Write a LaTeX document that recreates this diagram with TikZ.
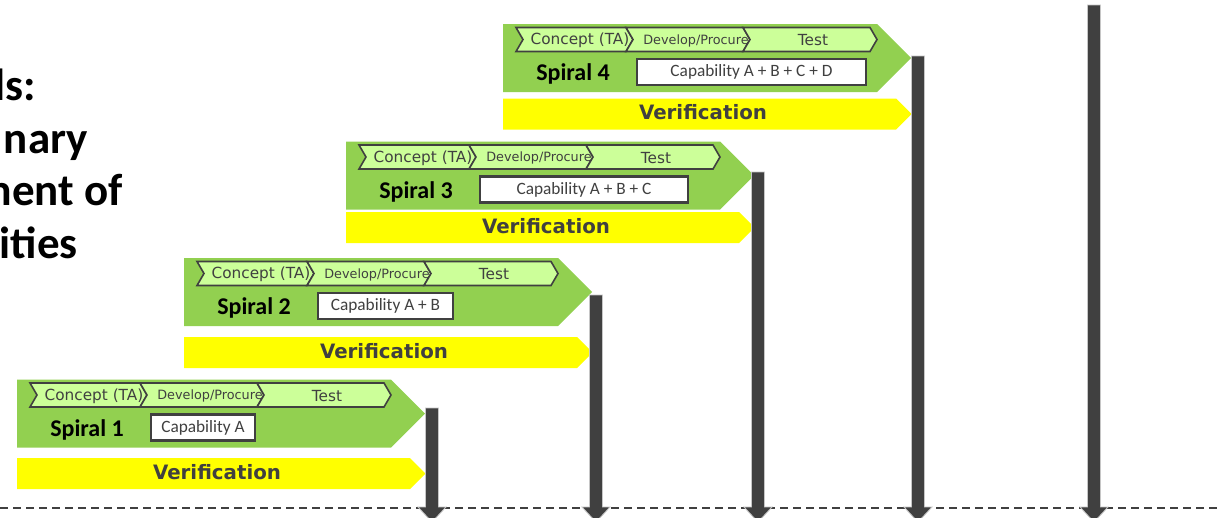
\documentclass[tikz,border=0pt]{standalone}
\usepackage{fontspec}
\setmainfont{Carlito}
\newfontfamily\dvsans{DejaVu Sans}
\definecolor{spgreen}{HTML}{92D050}
\definecolor{chevfill}{HTML}{CCFF99}
\definecolor{dgray}{HTML}{404040}
\definecolor{verfill}{HTML}{FFFF00}
\tikzset{
  greenbody/.style={fill=spgreen},
  chevshape/.style={fill=chevfill, draw=dgray, line width=1.6pt, line join=miter},
  chevtext/.style={font=\dvsans\fontsize{15.3}{17}\selectfont, text=dgray, inner sep=0},
  chevsmall/.style={font=\dvsans\fontsize{12.8}{15}\selectfont, text=dgray, inner sep=0},
  spirallabel/.style={font=\bfseries\fontsize{24}{28}\selectfont, text=black, inner sep=0},
  capbox/.style={draw=dgray, line width=2.2pt, fill=white, font=\fontsize{17.3}{20}\selectfont, text=dgray, inner sep=0, minimum height=26pt},
  verbody/.style={fill=verfill},
  vertext/.style={font=\dvsans\bfseries\fontsize{19.8}{23}\selectfont, text=dgray, inner sep=0},
  barshape/.style={fill=dgray, draw=gray!45, line width=0.8pt},
  dashline/.style={draw=dgray, line width=2pt, dash pattern=on 8pt off 5pt},
  sidetext/.style={font=\bfseries\fontsize{45}{52}\selectfont, text=black, inner sep=0, anchor=base east},
}
% chevron: #1 left x, #2 right x (tip at #2+7), #3 top y
\newcommand\chevron[3]{%
  \draw[chevshape] ({#1},{#3}) -- ({#2},{#3}) -- ({#2+7},{#3+12}) -- ({#2},{#3+24})
    -- ({#1},{#3+24}) -- ({#1+7},{#3+12}) -- cycle;}
% spiral: #1 x0, #2 green top, #3 id, #4 number, #5 capability text, #6 box width, #7 yellow top
\newcommand\spiralunit[7]{%
  \fill[greenbody] ({#1},{#2}) -- ++(374,0) -- ++(34,34) -- ++(-34,34) -- ++(-374,0) -- cycle;
  \chevron{#1+13}{#1+123}{#2+3.5}
  \chevron{#1+123}{#1+240}{#2+3.5}
  \chevron{#1+240}{#1+367}{#2+3.5}
  \node[chevtext] (concept#3) at ({#1+77},{#2+16.5}) {Concept (TA)};
  \node[chevsmall] (develop#3) at ({#1+193},{#2+16.5}) {Develop/Procure};
  \node[chevtext] (test#3) at ({#1+310},{#2+16.5}) {Test};
  \node[spirallabel] (label#3) at ({#1+70},{#2+50}) {Spiral #4};
  \node[capbox, minimum width=#6pt] (cap#3) at ({#1+134+#6/2},{#2+48}) {#5};
  \fill[verbody] ({#1},{#7}) -- ++(393,0) -- ++(15.5,15.5) -- ++(-15.5,15.5) -- ++(-393,0) -- cycle;
  \node[vertext] (ver#3) at ({#1+200},{#7+14}) {Verification};}
% bar arrow: #1 centre x, #2 top y, #3 name
\newcommand\bararrow[3]{%
  \coordinate (#3top) at ({#1},{#2});
  \coordinate (#3end) at ({#1},507);
  \draw[barshape] ({#1-6.5},{#2}) -- ({#1+6.5},{#2}) -- ({#1+6.5},507) -- ({#1+14},507)
    -- ({#1},522) -- ({#1-14},507) -- ({#1-6.5},507) -- cycle;}
\begin{document}
\begin{tikzpicture}[x=1pt,y=-1pt]
  \useasboundingbox (0,0) rectangle (1217,517);
  \clip (0,0) rectangle (1217,517);
  \fill[white] (0,0) rectangle (1217,517);
  % side text
  \node[sidetext] (side1) at (36,100) {ls:};
  \node[sidetext] (side2) at (88,153) {nary};
  \node[sidetext] (side3) at (123,205.5) {ment of};
  \node[sidetext] (side4) at (78,258) {ities};
  % baseline
  \coordinate (lineL) at (0,508);
  \coordinate (lineR) at (1217,508);
  \draw[dashline] (lineL) -- (lineR);
  % spirals
  \spiralunit{17}{379.5}{s1}{1}{Capability A}{104}{458}
  \spiralunit{184}{258}{s2}{2}{Capability A + B}{135}{337}
  \spiralunit{346}{141.5}{s3}{3}{Capability A + B + C}{208}{212}
  \spiralunit{503}{24}{s4}{4}{Capability A + B + C + D}{229}{98.5}
  % bars
  \bararrow{432}{408}{barA}
  \bararrow{596}{295}{barB}
  \bararrow{758}{172}{barC}
  \bararrow{918}{56}{barD}
  \bararrow{1094}{5}{barE}
\end{tikzpicture}
\end{document}
